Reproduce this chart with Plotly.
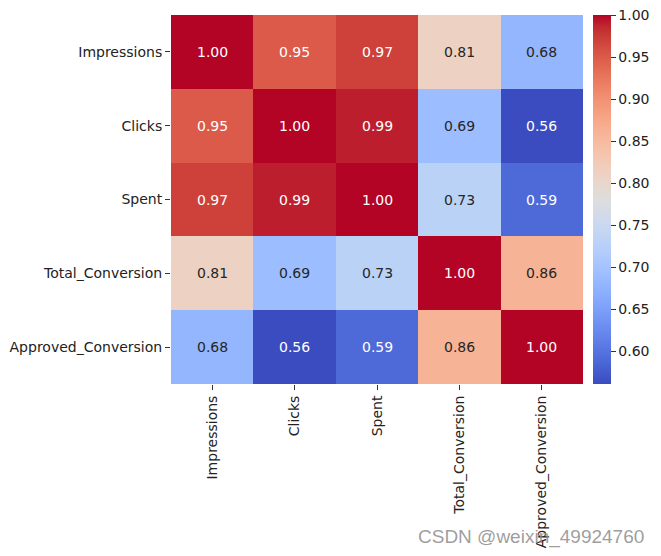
import plotly.graph_objects as go

labels = ["Impressions", "Clicks", "Spent", "Total_Conversion", "Approved_Conversion"]
corr = [
    [1.00, 0.95, 0.97, 0.81, 0.68],
    [0.95, 1.00, 0.99, 0.69, 0.561],
    [0.97, 0.99, 1.00, 0.73, 0.59],
    [0.81, 0.69, 0.73, 1.00, 0.86],
    [0.68, 0.561, 0.59, 0.86, 1.00],
]
cbar_ticks = [0.60, 0.65, 0.70, 0.75, 0.80, 0.85, 0.90, 0.95, 1.00]

cw = [
    (59, 76, 192), (68, 90, 204), (77, 104, 215), (87, 117, 225), (98, 130, 234),
    (108, 142, 241), (119, 154, 247), (130, 165, 251), (141, 176, 254), (152, 185, 255),
    (163, 194, 255), (174, 201, 253), (184, 208, 249), (194, 213, 244), (204, 217, 238),
    (213, 219, 230), (221, 221, 221), (229, 216, 209), (236, 211, 197), (241, 204, 185),
    (245, 196, 173), (247, 187, 160), (247, 177, 148), (247, 166, 135), (244, 154, 123),
    (241, 141, 111), (236, 127, 99), (229, 112, 88), (222, 96, 77), (213, 80, 66),
    (203, 62, 56), (192, 40, 47), (180, 4, 38),
]
n = len(cw) - 1
colorscale = [[i / n, "rgb(%d,%d,%d)" % c] for i, c in enumerate(cw)]

zmin = min(min(r) for r in corr)
zmax = max(max(r) for r in corr)


def color_at(v):
    t = (v - zmin) / (zmax - zmin)
    t = max(0.0, min(1.0, t)) * n
    i = min(int(t), n - 1)
    f = t - i
    return tuple((cw[i][k] * (1 - f) + cw[i + 1][k] * f) / 255 for k in range(3))


def lum(c):
    def ch(x):
        return x / 12.92 if x <= 0.03928 else ((x + 0.055) / 1.055) ** 2.4
    r, g, b = (ch(x) for x in c)
    return 0.2126 * r + 0.7152 * g + 0.0722 * b


W, H = 661, 556
x0, x1 = 171, 583
y0, y1 = 15, 384
FS = 14

fig = go.Figure(go.Heatmap(
    z=corr, x=labels, y=labels, colorscale=colorscale, zmin=zmin, zmax=zmax,
    xgap=0, ygap=0, hoverinfo="skip",
    colorbar=dict(
        x=593 / W, xanchor="left", xpad=0, ypad=0,
        y=1 - y0 / H, yanchor="top", len=(y1 - y0), lenmode="pixels",
        thickness=18, thicknessmode="pixels", outlinewidth=0,
        tickvals=cbar_ticks, ticktext=["%.2f" % t for t in cbar_ticks],
        ticks="outside", ticklen=5, tickcolor="#333", tickwidth=1,
        tickfont=dict(family="DejaVu Sans", size=FS, color="#222"),
    ),
))

annots = []
for i, row in enumerate(corr):
    for j, v in enumerate(row):
        col = "#262626" if lum(color_at(v)) > 0.408 else "#ffffff"
        annots.append(dict(x=labels[j], y=labels[i], text="%.2f" % v, showarrow=False,
                           font=dict(family="DejaVu Sans", size=FS, color=col)))
annots.append(dict(x=646 / W, y=1 - 537 / H, xref="paper", yref="paper", xanchor="right",
                   yanchor="middle", text="CSDN @weixin_49924760", showarrow=False,
                   font=dict(family="Liberation Sans", size=19, color="rgba(140,140,140,0.85)")))

fig.update_layout(
    width=W, height=H, margin=dict(l=0, r=0, t=0, b=0, autoexpand=False),
    paper_bgcolor="white", plot_bgcolor="white",
    annotations=annots,
    xaxis=dict(domain=[x0 / W, x1 / W], tickangle=-90, ticks="outside", ticklen=5,
               tickcolor="#333", showgrid=False, zeroline=False, showline=False, automargin=False,
               tickfont=dict(family="DejaVu Sans", size=FS, color="#222")),
    yaxis=dict(domain=[1 - y1 / H, 1 - y0 / H], autorange="reversed", ticks="outside",
               ticklen=5, tickcolor="#333", showgrid=False, zeroline=False, showline=False,
               automargin=False,
               tickfont=dict(family="DejaVu Sans", size=FS, color="#222")),
)

fig.write_html("out.html", config={"displayModeBar": False},
               post_script="document.body.style.margin='0';")
